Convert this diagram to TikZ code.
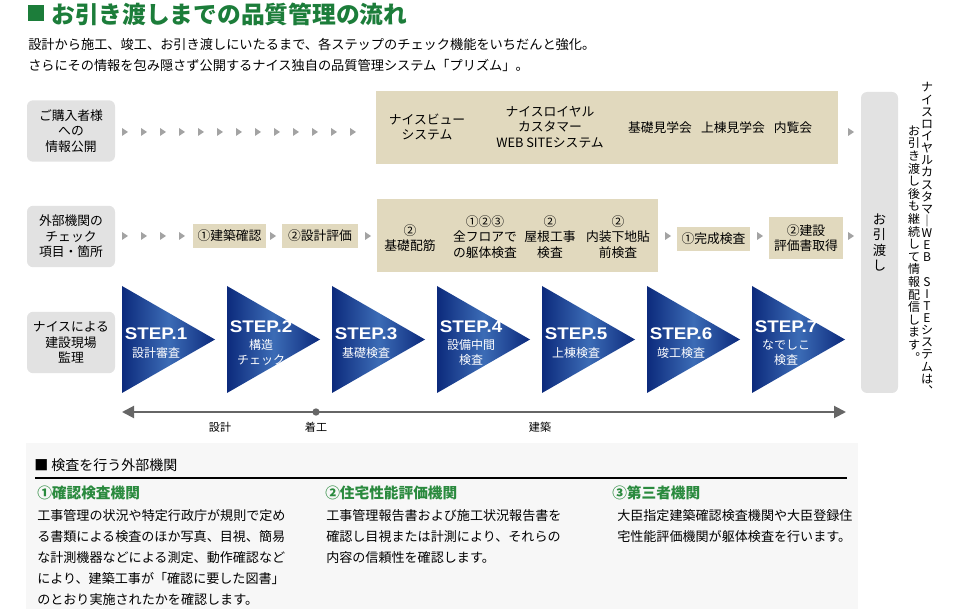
\documentclass[tikz,border=0pt]{standalone}
\usepackage{fontspec}
\setmainfont{Noto Sans CJK JP}
\newfontfamily\stepfont{Liberation Sans Bold}[FakeStretch=1.12]
\usetikzlibrary{arrows.meta,positioning}
\definecolor{titlegreen}{HTML}{1C7D3A}
\definecolor{headgreen}{HTML}{2A8A3E}
\definecolor{beige}{HTML}{E1D9BE}
\definecolor{boxgray}{HTML}{E2E2E2}
\definecolor{tipgray}{HTML}{A3A3A3}
\definecolor{navy}{HTML}{0C2A7C}
\definecolor{stepblue}{HTML}{3C6CB6}
\definecolor{panelgray}{HTML}{F7F7F7}
\definecolor{linegray}{HTML}{666666}
\newcommand\sizeit[2]{\fontsize{#1}{#2}\selectfont}
\newcommand\tipat[2]{\fill[tipgray] (#1-3,#2-4) -- (#1+3,#2) -- (#1-3,#2+4) -- cycle;}
\tikzset{
  rowlabel/.style={fill=boxgray, rounded corners=4.5pt, align=center, minimum width=66pt, minimum height=46pt, inner sep=0pt, font=\sizeit{9.6}{11.6}},
  beigebox/.style={fill=beige, inner sep=0pt},
  boxtext/.style={align=center, inner sep=0pt, font=\sizeit{9.6}{11.6}},
  steptext/.style={align=center, inner sep=0pt, text=white, font=\sizeit{9}{11}},
  ticklabel/.style={inner sep=0pt, font=\sizeit{8.3}{10}},
  headtext/.style={anchor=west, inner sep=0pt, text=headgreen, font=\bfseries\sizeit{11}{13}},
  bodytext/.style={anchor=north west, align=left, inner sep=0pt, font=\sizeit{9.8}{15.75}},
  vcolumn/.style={align=center, inner sep=0pt},
}
\begin{document}
\begin{tikzpicture}[x=0.75pt,y=-0.75pt,line join=round]
\useasboundingbox (0,0) rectangle (960,609);
% title
\node[fill=titlegreen, minimum size=12pt, inner sep=0pt] (titlemark) at (35.5,13.5) {};
\node[anchor=west, inner sep=0pt, text=titlegreen, font=\bfseries\sizeit{17.8}{20}] (title) at (51,14) {お引き渡しまでの品質管理の流れ};
\node[anchor=west, inner sep=0pt, align=left, font=\sizeit{9.9}{16}] (lead) at (28,55)
  {設計から施工、竣工、お引き渡しにいたるまで、各ステップのチェック機能をいちだんと強化。\\
   さらにその情報を包み隠さず公開するナイス独自の品質管理システム「プリズム」。};
% row labels
\node[rowlabel] (info) at (71,131) {ご購入者様\\への\\情報公開};
\node[rowlabel] (check) at (71,236.5) {外部機関の\\チェック\\項目・箇所};
\node[rowlabel] (site) at (71,342.5) {ナイスによる\\建設現場\\監理};
% row 1
\foreach \i in {0,...,12} {\tipat{125+19*\i}{132}}
\node[beigebox, minimum width=346.5pt, minimum height=54.75pt] (pubsys) at (607,127.5) {};
\node[boxtext] (niceview) at (427,127) {ナイスビュー\\システム};
\node[boxtext] (royal) at (550,127) {ナイスロイヤル\\カスタマー\\WEB SITEシステム};
\node[boxtext] (kiso) at (660,128) {基礎見学会};
\node[boxtext] (joto) at (733,128) {上棟見学会};
\node[boxtext] (nairan) at (793,128) {内覧会};
\tipat{851}{132}
% row 2
\foreach \i in {0,...,3} {\tipat{125+19*\i}{236}}
\node[beigebox, boxtext, minimum width=54.75pt, minimum height=18pt] (kakunin) at (229.5,236) {①建築確認};
\tipat{273}{236}
\node[beigebox, boxtext, minimum width=57pt, minimum height=18pt] (sekkei) at (320,236) {②設計評価};
\tipat{368}{236}
\node[beigebox, minimum width=210.75pt, minimum height=54.75pt] (onsite) at (517.5,235.5) {};
\node[boxtext] (haikin) at (410,238) {②\\基礎配筋};
\node[boxtext] (kutai) at (485,237) {①②③\\全フロアで\\の躯体検査};
\node[boxtext] (yane) at (550,237) {②\\屋根工事\\検査};
\node[boxtext] (naiso) at (618,237) {②\\内装下地貼\\前検査};
\tipat{668}{236}
\node[beigebox, boxtext, minimum width=54.75pt, minimum height=18pt] (kansei) at (713.5,239) {①完成検査};
\tipat{760}{236}
\node[beigebox, boxtext, minimum width=55.5pt, minimum height=31.5pt] (kensetsu) at (806,238) {②建設\\評価書取得};
\tipat{851}{236}
% hand over
\node[fill=boxgray, rounded corners=4.5pt, minimum width=27.75pt, minimum height=225.75pt, align=center, inner sep=0pt, font=\sizeit{10}{11.5}] (handover) at (879.5,242.5) {お\\引\\渡\\し};
\node[vcolumn, font=\sizeit{9}{9.1}] (notice1) at (927,239)
  {ナ\\イ\\ス\\ロ\\イ\\ヤ\\ル\\カ\\ス\\タ\\マ\\｜\\W\\E\\B\\~\\S\\I\\T\\E\\シ\\ス\\テ\\ム\\は\\︑};
\node[vcolumn, font=\sizeit{9}{9.45}] (notice2) at (914,244)
  {お\\引\\き\\渡\\し\\後\\も\\継\\続\\し\\て\\情\\報\\配\\信\\し\\ま\\す\\︒};
% steps
\foreach \n/\sub [evaluate=\n as \x using 122+105*(\n-1)] in {1/設計審査, 2/構造\\チェック, 3/基礎検査, 4/設備中間\\検査, 5/上棟検査, 6/竣工検査, 7/なでしこ\\検査}{
  \shade[left color=navy, right color=navy, middle color=stepblue] (\x,286) -- (\x+93,339.5) -- (\x,393) -- cycle;
  \node[steptext] (step\n) at (\x+34,343) {{\stepfont\sizeit{12.6}{13}STEP.\n}\\[2pt]\sub};
}
% time line
\coordinate (tlL) at (122,412);
\coordinate (tlR) at (846,412);
\draw[linegray, line width=1.5pt, {Triangle[length=9pt,width=9pt]}-{Triangle[length=9pt,width=9pt]}] (tlL) -- (tlR);
\node[circle, fill=linegray, inner sep=0pt, minimum size=5.5pt] (start) at (316,412) {};
\node[ticklabel] (design) at (220,427) {設計};
\node[ticklabel] (chakko) at (316,427) {着工};
\node[ticklabel] (build) at (540,427) {建築};
% agencies
\fill[panelgray] (26,443) rectangle (858,609);
\node[anchor=west, inner sep=0pt, font=\sizeit{10.5}{12}] (panelhead) at (34,465) {■ 検査を行う外部機関};
\draw[line width=0.8pt] (35,478) -- (847,478);
\node[headtext] (agency1) at (37,493) {①確認検査機関};
\node[headtext] (agency2) at (325,493) {②住宅性能評価機関};
\node[headtext] (agency3) at (612,493) {③第三者機関};
\node[bodytext] (text1) at (37,509) {工事管理の状況や特定行政庁が規則で定め\\る書類による検査のほか写真、目視、簡易\\な計測機器などによる測定、動作確認など\\により、建築工事が「確認に要した図書」\\のとおり実施されたかを確認します。};
\node[bodytext] (text2) at (326,509) {工事管理報告書および施工状況報告書を\\確認し目視または計測により、それらの\\内容の信頼性を確認します。};
\node[bodytext] (text3) at (617,509) {大臣指定建築確認検査機関や大臣登録住\\宅性能評価機関が躯体検査を行います。};
\end{tikzpicture}
\end{document}
